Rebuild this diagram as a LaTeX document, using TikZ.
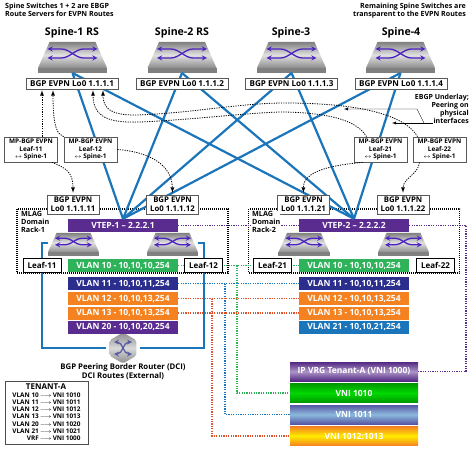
\documentclass[tikz,border=0pt]{standalone}
\usepackage{amsmath,amssymb}
\usepackage{fontspec}
\setmainfont{Open Sans}
\usetikzlibrary{shapes.geometric}
\definecolor{linkblue}{HTML}{1B75BB}
\definecolor{vlangreen}{HTML}{2EB25A}
\definecolor{vlannavy}{HTML}{2B2E8C}
\definecolor{vlanorange}{HTML}{F58220}
\definecolor{vlanpurple}{HTML}{5B2C90}
\definecolor{arrowpurple}{HTML}{4B22C0}
\definecolor{redorange}{HTML}{E0522C}
\tikzset{
  swtext/.style={font=\bfseries\fontsize{10.6}{12}\selectfont},
  note/.style={font=\bfseries\fontsize{7.1}{8.2}\selectfont,align=left,inner sep=0pt},
  racknote/.style={note,anchor=north west,font=\bfseries\fontsize{7.2}{8.2}\selectfont},
  loopbox/.style={draw=black!65,fill=white,line width=0.7pt,inner sep=0pt,minimum width=92pt,minimum height=11pt,font=\bfseries\fontsize{8.1}{9}\selectfont},
  peerbox/.style={loopbox,minimum width=52pt,minimum height=19pt,align=center,font=\bfseries\fontsize{7.8}{9}\selectfont},
  mpbox/.style={loopbox,minimum width=53pt,minimum height=25pt,align=center,font=\bfseries\fontsize{6.4}{7.8}\selectfont},
  leafbox/.style={draw=black,fill=white,line width=0.8pt,inner sep=0pt,minimum width=38pt,minimum height=14pt,font=\bfseries\fontsize{8}{9}\selectfont},
  bar/.style={text=white,inner sep=0pt,minimum width=110pt,minimum height=13pt,font=\bfseries\fontsize{8.5}{9}\selectfont},
  vnibar/.style={bar,minimum width=128pt,minimum height=19pt},
  rackbox/.style={draw=black,line width=1.2pt,dash pattern=on 1pt off 1pt,minimum width=211pt,minimum height=64pt,inner sep=0pt},
  fabric/.style={draw=linkblue,line width=2.2pt},
  peering/.style={draw=black,line width=0.8pt,dash pattern=on 1.2pt off 1.2pt,->,shorten >=1pt},
  tied/.style={line width=1.2pt,dash pattern=on 1.2pt off 1.2pt},
  switcharrow/.style={draw=arrowpurple,line width=1.3pt,<->,>=stealth},
  switchicon/.pic={
    \shade[top color=black!50,bottom color=black!45,middle color=black!12] (-23,0) -- (23,0) -- (34.5,26) -- (-34.5,26) -- cycle;
    \fill[black!50] (-34.5,26) rectangle (34.5,31);
    \draw[switcharrow] (-25,7) -- (-11,7) .. controls (-3,7) and (3,16) .. (11,16) -- (25,16);
    \draw[switcharrow] (25,7) -- (11,7) .. controls (3,7) and (-3,16) .. (-11,16) -- (-25,16);
    \coordinate (-base) at (0,31);
  }
}
\begin{document}
\begin{tikzpicture}[x=1pt,y=-1pt,>=latex]
  \useasboundingbox (0,0) rectangle (474,449);

  % top notes and switch names
  \node[note,anchor=north west] (notel) at (5,3) {Spine Switches 1 + 2 are EBGP\\Route Servers for EVPN Routes};
  \node[note,anchor=north east,align=right] (noter) at (466,3) {Remaining Spine Switches are\\transparent to the EVPN Routes};
  \node[swtext] (name1) at (72,33) {Spine-1 RS};
  \node[swtext] (name2) at (182,33) {Spine-2 RS};
  \node[swtext] (name3) at (291,33) {Spine-3};
  \node[swtext] (name4) at (401,33) {Spine-4};

  % racks and the vtep bars
  \node[rackbox] (rack1) at (122.5,241) {};
  \node[rackbox] (rack2) at (354,241) {};
  \node[bar,fill=vlanpurple] (vtep1) at (123,225.5) {VTEP-1 -- 2.2.2.1};
  \node[bar,fill=vlanpurple] (vtep2) at (354,225.5) {VTEP-2 -- 2.2.2.2};

  % spines down to the vteps
  \pic (sp1) at (72.5,42) {switchicon};
  \pic (sp2) at (182,42) {switchicon};
  \pic (sp3) at (291.5,42) {switchicon};
  \pic (sp4) at (400.5,42) {switchicon};
  \draw[fabric] (sp1-base) -- (vtep1.north);
  \draw[fabric] (sp2-base) -- (vtep1.north);
  \draw[fabric] (sp3-base) -- (vtep1.north);
  \draw[fabric] (sp4-base) -- (vtep1.north);
  \draw[fabric] (sp1-base) -- (vtep2.north);
  \draw[fabric] (sp2-base) -- (vtep2.north);
  \draw[fabric] (sp3-base) -- (vtep2.north);
  \draw[fabric] (sp4-base) -- (vtep2.north);

  \node[loopbox] (bgp1) at (72,83.5) {BGP EVPN Lo0 1.1.1.1};
  \node[loopbox] (bgp2) at (182,83.5) {BGP EVPN Lo0 1.1.1.2};
  \node[loopbox] (bgp3) at (291.5,83.5) {BGP EVPN Lo0 1.1.1.3};
  \node[loopbox] (bgp4) at (401,83.5) {BGP EVPN Lo0 1.1.1.4};

  \node[mpbox] (mp11) at (31,149.5) {MP-BGP EVPN\\Leaf-11\\$\leftrightarrow$ Spine-1};
  \node[mpbox] (mp12) at (90.5,149.5) {MP-BGP EVPN\\Leaf-12\\$\leftrightarrow$ Spine-1};
  \node[mpbox] (mp21) at (380.5,149.5) {MP-BGP EVPN\\Leaf-21\\$\leftrightarrow$ Spine-1};
  \node[mpbox] (mp22) at (439.5,149.5) {MP-BGP EVPN\\Leaf-22\\$\leftrightarrow$ Spine-1};

  \node[peerbox] (bgp11) at (73,204.5) {BGP EVPN\\Lo0 1.1.1.11};
  \node[peerbox] (bgp12) at (172.5,204.5) {BGP EVPN\\Lo0 1.1.1.12};
  \node[peerbox] (bgp21) at (303.5,204.5) {BGP EVPN\\Lo0 1.1.1.21};
  \node[peerbox] (bgp22) at (403,204.5) {BGP EVPN\\Lo0 1.1.1.22};

  % peerings
  \draw[peering] ([xshift=11pt]mp11.north) -- ([xshift=-30pt]bgp1.south);
  \draw[peering] (mp12.north west) .. controls (58,134) and (53,130) .. ([xshift=-19pt]bgp1.south);
  \draw[peering] ([xshift=-14pt]mp21.north) .. controls (358,122) and (334,113) .. (284,112) .. controls (255,112) and (190,120) .. (140,122) .. controls (110,123) and (93,118) .. ([xshift=21pt]bgp1.south);
  \draw[peering] ([xshift=-22pt]mp22.north) .. controls (408,120) and (375,103) .. (284,103) .. controls (240,103) and (185,114) .. (135,115) .. controls (113,115) and (103,110) .. ([xshift=31pt]bgp1.south);
  \draw[peering,shorten >=2pt] ([xshift=21pt]mp11.south) .. controls (66,168) and (73,172) .. (bgp11.north);
  \draw[peering,shorten >=2pt] (mp12.east) .. controls (150,152) and (172,165) .. (bgp12.north);
  \draw[peering,shorten >=2pt] ([xshift=-18pt]mp21.south) .. controls (335,165) and (303,170) .. (bgp21.north);
  \draw[peering,shorten >=2pt] ([xshift=-20pt]mp22.south) .. controls (418,175) and (403,178) .. (bgp22.north);

  \node[note,anchor=north east,align=right,font=\bfseries\fontsize{7}{7.9}\selectfont] (ebgp) at (469,94) {EBGP Underlay;\\Peering on\\physical\\interfaces};
  \coordinate (ej) at (433,123);
  \coordinate (em) at (424,123);
  \coordinate (ek) at (417,109);
  \coordinate (e1) at (392,123);
  \coordinate (e2) at (344,109);
  \draw[->] (ej) -- (e1);
  \draw[->] (em) -- (ek) -- (e2);

  % leaf switches with the border router
  \pic[scale=0.74] (sw11) at (73.5,233) {switchicon};
  \pic[scale=0.74] (sw12) at (172.5,233) {switchicon};
  \pic[scale=0.74] (sw21) at (304,233) {switchicon};
  \pic[scale=0.74] (sw22) at (403.5,233) {switchicon};

  \node[regular polygon,regular polygon sides=6,shape border rotate=30,minimum size=31pt,inner sep=0pt,top color=black!45,bottom color=black!45,middle color=black!15,rounded corners=2pt] (dci) at (123,348) {};
  \draw[switcharrow,line width=1.2pt,draw=vlannavy!80] (114,342) .. controls (123,342) and (123,354) .. (132,354);
  \draw[switcharrow,line width=1.2pt,draw=vlannavy!80] (132,342) .. controls (123,342) and (123,354) .. (114,354);
  \coordinate (ul) at (42,243);
  \coordinate (ur) at (204,243);
  \draw[fabric,line width=2pt,shorten >=3pt] (ul) ++(6,0) -- (ul) |- (dci.west);
  \draw[fabric,line width=2pt,shorten >=3pt] (ur) ++(-6,0) -- (ur) |- (dci.east);
  \node[note,align=center,font=\bfseries\fontsize{7.8}{8.8}\selectfont] (dcit) at (123,371.5) {BGP Peering Border Router (DCI)\\DCI Routes (External)};

  % vlan bars
  \node[bar,fill=vlangreen] (v10a) at (123,265.5) {VLAN 10 - 10,10,10,254};
  \node[bar,fill=vlannavy] (v11a) at (123,283.5) {VLAN 11 - 10,10,11,254};
  \node[bar,fill=vlanorange] (v12a) at (123,298.5) {VLAN 12 - 10,10,13,254};
  \node[bar,fill=vlanorange] (v13a) at (123,313) {VLAN 13 - 10,10,13,254};
  \node[bar,fill=vlanpurple] (v20a) at (123,327) {VLAN 20 - 10,10,20,254};
  \node[bar,fill=vlangreen] (v10b) at (354,265.5) {VLAN 10 - 10,10,10,254};
  \node[bar,fill=vlannavy] (v11b) at (354,283.5) {VLAN 11 - 10,10,11,254};
  \node[bar,fill=vlanorange] (v12b) at (354,298.5) {VLAN 12 - 10,10,13,254};
  \node[bar,fill=vlanorange] (v13b) at (354,313) {VLAN 13 - 10,10,13,254};
  \node[bar,fill=linkblue] (v21b) at (354,327) {VLAN 21 - 10,10,21,254};

  % vni bars
  \node[vnibar,top color=vlanpurple!90!black,bottom color=vlanpurple!90!black,middle color=vlanpurple!50] (vrg) at (354,371.5) {IP VRG Tenant-A (VNI 1000)};
  \node[vnibar,top color=green!60!black,bottom color=green!60!black,middle color=green!85!black] (vni1010) at (354,393) {VNI 1010};
  \node[vnibar,top color=vlannavy!80,bottom color=vlannavy!80,middle color=linkblue!50] (vni1011) at (354,414.5) {VNI 1011};
  \node[vnibar,top color=vlanorange,bottom color=vlanorange,middle color=yellow!85!orange] (vni1012) at (354,436) {VNI 1012:1013};

  % dotted ties between bars
  \coordinate (gj) at (237,265.5);
  \coordinate (bj) at (225,283.5);
  \coordinate (rj) at (212,298.5);
  \coordinate (pj) at (466,371.5);
  \draw[tied,draw=vlanpurple] (vtep1.east) -- (vtep2.west);
  \draw[tied,draw=vlanpurple] (vtep2.east) -| (pj) -- (vrg.east);
  \draw[tied,draw=vlangreen] (v10a.east) -- (v10b.west);
  \draw[tied,draw=vlangreen] (gj) |- (vni1010.west);
  \draw[tied,draw=linkblue] (v11a.east) -- (v11b.west);
  \draw[tied,draw=linkblue] (bj) |- (vni1011.west);
  \draw[tied,draw=redorange] (v12a.east) -- (v12b.west);
  \draw[tied,draw=redorange] (v13a.east) -- (v13b.west);
  \draw[tied,draw=redorange] (rj) |- (vni1012.west);

  \node[racknote] (rackt1) at (21,211) {MLAG\\Domain\\Rack-1};
  \node[racknote,fill=white] (rackt2) at (252,211) {MLAG\\Domain\\Rack-2};
  \node[leafbox] (leaf11) at (42,265) {Leaf-11};
  \node[leafbox] (leaf12) at (203.5,265) {Leaf-12};
  \node[leafbox] (leaf21) at (272.5,265) {Leaf-21};
  \node[leafbox] (leaf22) at (435.5,265) {Leaf-22};

  % tenant table
  \node[draw=black!70,fill=white,line width=0.8pt,inner sep=0pt,minimum width=83pt,minimum height=63pt,anchor=north west] (tenant) at (5,381) {};
  \node[font=\bfseries\fontsize{8}{9}\selectfont,inner sep=0pt] (tenantt) at (46,386.5) {TENANT-A};
  \node[font=\bfseries\fontsize{6.4}{7.2}\selectfont,inner sep=0pt,anchor=north] (tenantm) at (46.5,392) {%
    \begin{tabular}{@{}r@{\,}c@{\,}l@{}}
      VLAN 10&$\longrightarrow$&VNI 1010\\
      VLAN 11&$\longrightarrow$&VNI 1011\\
      VLAN 12&$\longrightarrow$&VNI 1012\\
      VLAN 13&$\longrightarrow$&VNI 1013\\
      VLAN 20&$\longrightarrow$&VNI 1020\\
      VLAN 21&$\longrightarrow$&VNI 1021\\
      VRF&$\longrightarrow$&VNI 1000
    \end{tabular}};
\end{tikzpicture}
\end{document}
